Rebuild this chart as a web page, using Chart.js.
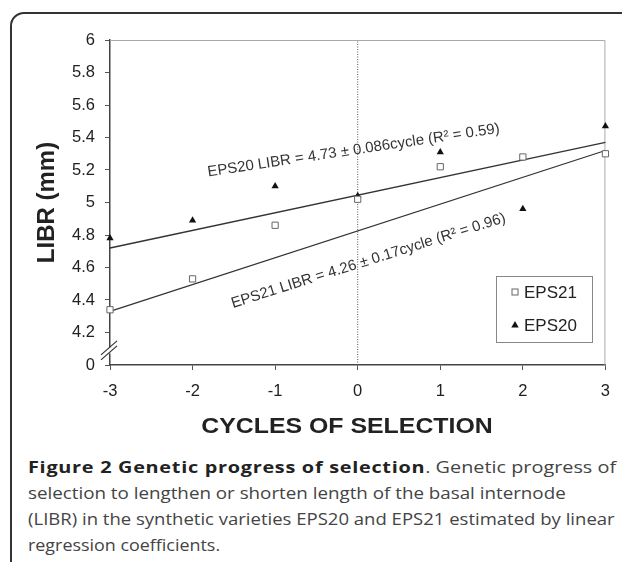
<!DOCTYPE html>
<html>
<head>
<meta charset="utf-8">
<script src="https://cdn.jsdelivr.net/npm/chart.js@4.4.0/dist/chart.umd.min.js"></script>
<style>
  html, body { margin: 0; padding: 0; background: #fff; }
  body { width: 622px; height: 562px; position: relative; overflow: hidden; }
  #frame {
    position: absolute; left: 10px; top: 12px; width: 700px; height: 700px;
    border: 2px solid #333; border-radius: 14px; box-sizing: border-box;
  }
  #chart { position: absolute; left: 0; top: 0; }
  #caption {
    position: absolute; left: 28px; top: 454px; width: 588px;
    font-family: "Open Sans", sans-serif; font-size: 16.5px; line-height: 26px; color: #444;
  }
  #caption div { white-space: nowrap; height: 26px; }
  #caption span { display: inline-block; transform-origin: 0 0; }
  #caption b { color: #222; letter-spacing: 0.6px; }
</style>
</head>
<body>
<div id="frame"></div>
<canvas id="chart" width="622" height="450"></canvas>
<div id="caption">
  <div><span data-w="588"><b>Figure 2 Genetic progress of selection</b>. Genetic progress of</span></div>
  <div><span data-w="538">selection to lengthen or shorten length of the basal internode</span></div>
  <div><span data-w="587">(LIBR) in the synthetic varieties EPS20 and EPS21 estimated by linear</span></div>
  <div><span data-w="192">regression coefficients.</span></div>
</div>
<script>
// values
const cycles = [-3, -2, -1, 0, 1, 2, 3];
const eps21 = [4.34, 4.53, 4.86, 5.02, 5.22, 5.28, 5.30];
const eps20 = [4.78, 4.89, 5.10, 5.04, 5.31, 4.96, 5.47];
const trendX = [-3, 3];
const eps21Trend = [4.33, 5.32];
const eps20Trend = [4.72, 5.37];
const yTicks = [4, 4.2, 4.4, 4.6, 4.8, 5, 5.2, 5.4, 5.6, 5.8, 6];
const yTickLabels = ['0', '4.2', '4.4', '4.6', '4.8', '5', '5.2', '5.4', '5.6', '5.8', '6'];
const seriesNames = ['EPS21', 'EPS20'];
const eq20 = 'EPS20 LIBR = 4.73 \u00b1 0.086cycle (R\u00b2 = 0.59)';
const eq21 = 'EPS21 LIBR = 4.26 \u00b1 0.17cycle (R\u00b2 = 0.96)';
const xTitle = 'CYCLES OF SELECTION';
const yTitle = 'LIBR (mm)';

// caption lines stretched to the widths they have in the figure
document.querySelectorAll('#caption span').forEach(s => {
  s.style.transform = 'scaleX(' + (+s.dataset.w / s.offsetWidth) + ')';
});

const pts = (xs, ys) => xs.map((x, i) => ({ x: x, y: ys[i] }));

function drawSquare(ctx, x, y) {
  ctx.fillStyle = '#fff';
  ctx.strokeStyle = '#666';
  ctx.lineWidth = 1;
  ctx.fillRect(x - 3, y - 3, 6, 6);
  ctx.strokeRect(x - 3, y - 3, 6, 6);
}
function drawTriangle(ctx, x, y) {
  ctx.fillStyle = '#111';
  ctx.beginPath();
  ctx.moveTo(x, y - 4);
  ctx.lineTo(x + 3.7, y + 2.6);
  ctx.lineTo(x - 3.7, y + 2.6);
  ctx.closePath();
  ctx.fill();
}

const extras = {
  id: 'extras',
  beforeDatasetsDraw(chart) {
    const { ctx, chartArea: a } = chart;
    ctx.save();
    ctx.strokeStyle = '#aaa';
    ctx.lineWidth = 1;
    ctx.beginPath();
    ctx.moveTo(a.left, a.top + 0.5);
    ctx.lineTo(a.right - 0.5, a.top + 0.5);
    ctx.lineTo(a.right - 0.5, a.bottom);
    ctx.stroke();
    ctx.restore();
  },
  afterDraw(chart) {
    const { ctx, chartArea: a, scales } = chart;
    const xs = scales.x, ys = scales.y;
    ctx.save();

    // regression equations
    ctx.font = '15px "Liberation Sans", Arial, sans-serif';
    ctx.fillStyle = '#333';
    ctx.textAlign = 'center';
    ctx.textBaseline = 'middle';
    [[eq20, -0.05, 5.32, -8.5], [eq21, 0.13, 4.641, -17.5]].forEach(([t, dx, dy, rot]) => {
      ctx.save();
      ctx.translate(xs.getPixelForValue(dx), ys.getPixelForValue(dy));
      ctx.rotate(rot * Math.PI / 180);
      ctx.fillText(t, 0, 0);
      ctx.restore();
    });

    // axis break
    const yb = ys.getPixelForValue(4.09);
    ctx.fillStyle = '#fff';
    ctx.fillRect(a.left - 2, yb - 3, 4, 6);
    ctx.strokeStyle = '#333';
    ctx.lineWidth = 1.2;
    [-2.5, 2.5].forEach(off => {
      ctx.beginPath();
      ctx.moveTo(a.left - 9, yb + off + 7);
      ctx.lineTo(a.left + 7, yb + off - 7);
      ctx.stroke();
    });

    // legend
    const lx = 496, ly = 276, lw = 96, lh = 66;
    ctx.fillStyle = '#fff';
    ctx.fillRect(lx, ly, lw, lh);
    ctx.strokeStyle = '#888';
    ctx.lineWidth = 1;
    ctx.strokeRect(lx + 0.5, ly + 0.5, lw, lh);
    ctx.font = '17px "Liberation Sans", Arial, sans-serif';
    ctx.textAlign = 'left';
    ctx.textBaseline = 'middle';
    drawSquare(ctx, 515, 292);
    drawTriangle(ctx, 515, 325);
    ctx.fillStyle = '#222';
    ctx.fillText(seriesNames[0], 524, 293);
    ctx.fillText(seriesNames[1], 524, 326);

    // x axis title
    ctx.save();
    ctx.translate(347, 427);
    ctx.scale(1.13, 1);
    ctx.font = 'bold 22px "Liberation Sans", Arial, sans-serif';
    ctx.fillStyle = '#222';
    ctx.textAlign = 'center';
    ctx.fillText(xTitle, 0, 0);
    ctx.restore();

    ctx.restore();
  }
};

new Chart(document.getElementById('chart'), {
  type: 'scatter',
  data: {
    datasets: [
      {
        label: seriesNames[0], data: pts(cycles, eps21), pointStyle: 'rect', pointRadius: 4.4,
        backgroundColor: '#fff', borderColor: '#666', borderWidth: 1, clip: false, order: 1
      },
      {
        label: seriesNames[1], data: pts(cycles, eps20), pointStyle: 'triangle', pointRadius: 4.2,
        backgroundColor: '#111', borderColor: '#111', borderWidth: 0, clip: false, order: 1
      },
      {
        label: 'EPS21 trend', data: pts(trendX, eps21Trend), showLine: true, pointRadius: 0,
        borderColor: '#333', borderWidth: 1.3, clip: false, order: 2
      },
      {
        label: 'EPS20 trend', data: pts(trendX, eps20Trend), showLine: true, pointRadius: 0,
        borderColor: '#333', borderWidth: 1.3, clip: false, order: 2
      },
      {
        label: 'zero', data: pts([0, 0], [4, 6]), showLine: true, pointRadius: 0,
        borderColor: '#555', borderWidth: 1, borderDash: [1, 1.5], order: 3
      }
    ]
  },
  options: {
    responsive: false,
    animation: false,
    layout: { padding: { left: 0, top: 40, right: 10, bottom: 0 } },
    plugins: { legend: { display: false }, tooltip: { enabled: false } },
    scales: {
      x: {
        type: 'linear', min: -3, max: 3,
        afterBuildTicks: s => { s.ticks = cycles.map(v => ({ value: v })); },
        afterFit: s => { s.height = 85; },
        grid: { drawOnChartArea: false, tickLength: 5, tickColor: '#555' },
        border: { color: '#444', width: 1.5 },
        ticks: { color: '#222', padding: 12, font: { family: '"Liberation Sans", Arial', size: 16.5 } }
      },
      y: {
        type: 'linear', min: 4, max: 6,
        afterBuildTicks: s => { s.ticks = yTicks.map(v => ({ value: v })); },
        afterFit: s => { s.width = 110; },
        grid: { drawOnChartArea: false, tickLength: 5, tickColor: '#555' },
        border: { color: '#444', width: 1.5 },
        ticks: {
          color: '#222', padding: 10, font: { family: '"Liberation Sans", Arial', size: 16.5 },
          callback: (v, i) => yTickLabels[i]
        },
        title: {
          display: true, text: yTitle, color: '#222', padding: { top: 33, bottom: 0 },
          font: { family: '"Liberation Sans", Arial', size: 24, weight: 'bold' }
        }
      }
    }
  },
  plugins: [extras]
});
</script>
</body>
</html>
